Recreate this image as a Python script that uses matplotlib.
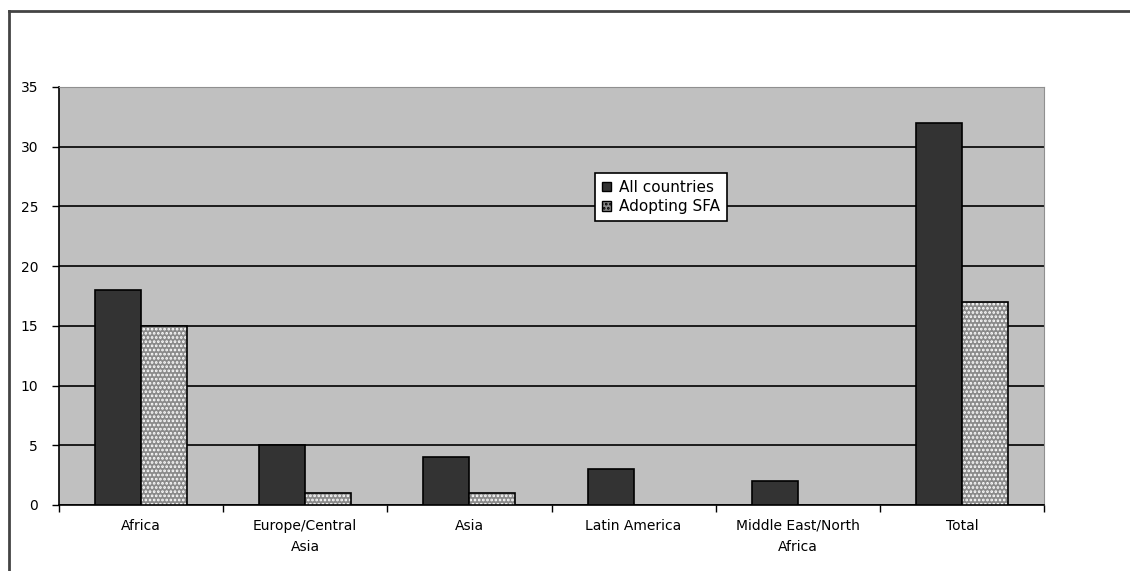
import matplotlib
matplotlib.use("Agg")
import matplotlib.pyplot as plt
import numpy as np
from matplotlib.lines import Line2D
from matplotlib.patches import Patch

categories = ["Africa", "Europe/Central\nAsia", "Asia", "Latin America",
              "Middle East/North\nAfrica", "Total"]
all_countries = [18, 5, 4, 3, 2, 32]
adopting_sfa = [15, 1, 1, 0, 0, 17]
y_ticks = [0, 5, 10, 15, 20, 25, 30, 35]

plt.rcParams['font.family'] = ['DejaVu Sans']
plt.rcParams['hatch.linewidth'] = 1.3

fig = plt.figure(figsize=(11.3, 5.71), dpi=100)
W, H = 1130, 571
ax = fig.add_axes([59 / W, 1 - 505 / H, (1044 - 59) / W, (505 - 87) / H])
ax.set_facecolor('#c0c0c0')

x = np.arange(len(categories))
bw = 0.28
dark = '#333333'
dotted = '#8a8a8a'

# grid lines
ax.set_axisbelow(True)
ax.yaxis.grid(True, color='black', linewidth=1.2)

ax.bar(x - bw / 2, all_countries, bw, color=dark, edgecolor='black', linewidth=1.2, zorder=3)
# dotted fill, then outlines on top
vals = np.array(adopting_sfa)
mask = vals > 0
ax.bar(x[mask] + bw / 2, vals[mask], bw, color=dotted, edgecolor='white',
       hatch='....', linewidth=0, zorder=3)
ax.bar(x[mask] + bw / 2, vals[mask], bw, fill=False, edgecolor='black', linewidth=1.2, zorder=4)

ax.set_xlim(-0.5, len(categories) - 0.5)
ax.set_ylim(0, 35)
ax.set_yticks(y_ticks)
ax.set_yticklabels([str(t) for t in y_ticks], fontsize=10)
ax.tick_params(axis='y', length=5, width=1, direction='out', pad=10)

ax.set_xticks(x)
ax.set_xticklabels(categories, fontsize=10, linespacing=1.65)
ax.tick_params(axis='x', length=0, pad=10)
ax.set_xticks(np.arange(-0.5, len(categories)), minor=True)
ax.tick_params(axis='x', which='minor', length=5, width=1, direction='out')

ax.spines['left'].set_color('black')
ax.spines['left'].set_linewidth(1.2)
ax.spines['bottom'].set_color('black')
ax.spines['bottom'].set_linewidth(1.2)
ax.spines['top'].set_color('#909090')
ax.spines['right'].set_color('#909090')

handles = [Patch(facecolor=dark, edgecolor='black', label='All countries'),
           Patch(facecolor=dotted, edgecolor='black', hatch='....', label='Adopting SFA')]
leg = ax.legend(handles=handles, loc='upper left',
                bbox_to_anchor=((595 - 59) / (1044 - 59), 1 - (173 - 87) / (505 - 87)),
                fontsize=11, frameon=True, fancybox=False, edgecolor='black', facecolor='white',
                framealpha=1, handlelength=0.6, handleheight=0.6, handletextpad=0.55,
                borderpad=0.45, labelspacing=0.3, borderaxespad=0)
leg.get_frame().set_linewidth(1.2)

# outer chart frame
fig.add_artist(Line2D([9 / W, 1], [1 - 11 / H, 1 - 11 / H], color='#444444', linewidth=2,
                      transform=fig.transFigure))
fig.add_artist(Line2D([9 / W, 9 / W], [0, 1 - 11 / H], color='#444444', linewidth=2,
                      transform=fig.transFigure))

fig.savefig('out.png', dpi=100, facecolor='white')
